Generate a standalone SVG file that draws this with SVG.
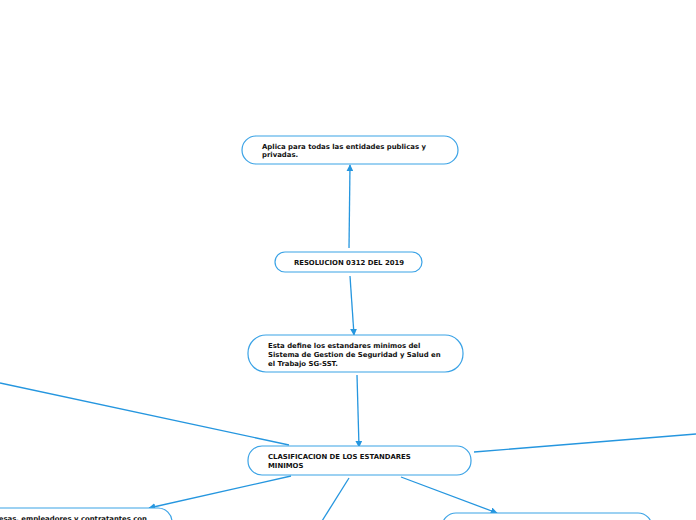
<svg xmlns="http://www.w3.org/2000/svg" width="696" height="520" viewBox="0 0 696 520">
<style>
.n{fill:#fff;stroke:#3ba3e6;stroke-width:1.2}
.t{font-family:"DejaVu Sans",Verdana,sans-serif;font-weight:bold;font-size:6.9px;fill:#111}
.c{fill:none;stroke:#2596df;stroke-width:1.3}
</style>
<defs>
<marker id="a" viewBox="0 0 10 10" refX="9" refY="5" markerWidth="7" markerHeight="7" markerUnits="userSpaceOnUse" orient="auto">
<path d="M0,0 L10,5 L0,10 z" fill="#2596df"/>
</marker>
</defs>
<rect width="696" height="520" fill="#fff"/>
<g id="connectors">
<path class="c" d="M349,248 L350,165" marker-end="url(#a)"/>
<path class="c" d="M350,276 L354,335" marker-end="url(#a)"/>
<path class="c" d="M357,375 L359,447" marker-end="url(#a)"/>
<path class="c" d="M289,445 L0,383"/>
<path class="c" d="M474,452 L696,434"/>
<path class="c" d="M291,476 L149,508" marker-end="url(#a)"/>
<path class="c" d="M401,477 L497,513" marker-end="url(#a)"/>
<path class="c" d="M349,478 L322,521"/>
</g>
<g id="node-aplica">
<rect class="n" x="242" y="136" width="216" height="28" rx="14"/>
<text class="t" x="262" y="149">Aplica para todas las entidades publicas y</text>
<text class="t" x="262" y="157">privadas.</text>
</g>
<g id="node-resolucion">
<rect class="n" x="275" y="252" width="147" height="20" rx="10"/>
<text class="t" x="349" y="264.5" text-anchor="middle">RESOLUCION 0312 DEL 2019</text>
</g>
<g id="node-define">
<rect class="n" x="248" y="335" width="215" height="37" rx="18"/>
<text class="t" x="268" y="348">Esta define los estandares minimos del</text>
<text class="t" x="268" y="357">Sistema de Gestion de Seguridad y Salud en</text>
<text class="t" x="268" y="366">el Trabajo SG-SST.</text>
</g>
<g id="node-clasificacion">
<rect class="n" x="248" y="446" width="223" height="29" rx="14"/>
<text class="t" x="268" y="458.5">CLASIFICACION DE LOS ESTANDARES</text>
<text class="t" x="268" y="467.5">MINIMOS</text>
</g>
<g id="node-empresas">
<rect class="n" x="-60" y="508" width="232" height="40" rx="14"/>
<text class="t" x="147" y="521" text-anchor="end">Empresas, empleadores y contratantes con</text>
</g>
<g id="node-right">
<rect class="n" x="442" y="513" width="210" height="40" rx="14"/>
</g>
</svg>
